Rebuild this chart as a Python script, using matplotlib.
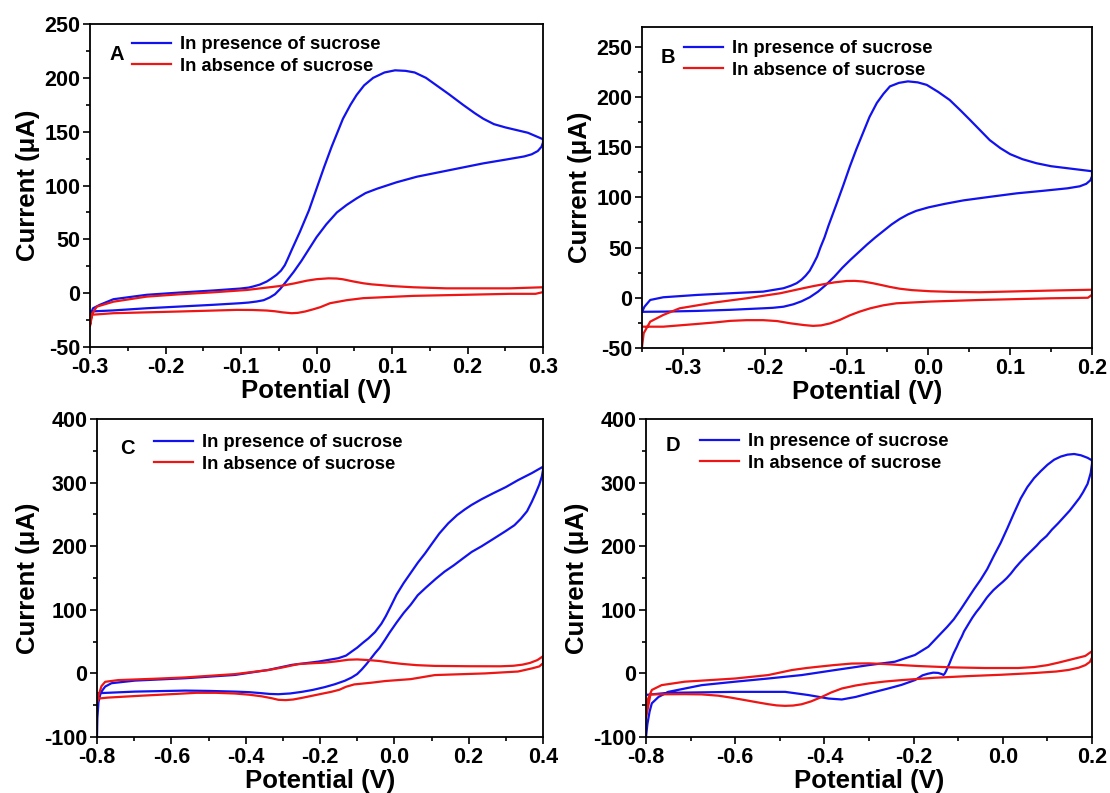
import matplotlib
matplotlib.use("Agg")
import matplotlib.pyplot as plt
from matplotlib.ticker import MultipleLocator, FormatStrFormatter

plt.rcParams["font.family"] = ["Liberation Sans", "DejaVu Sans"]
plt.rcParams["font.weight"] = "bold"
plt.rcParams["axes.unicode_minus"] = False

BLUE = "#1212EE"
RED = "#EE1515"
LABELS = ["In presence of sucrose", "In absence of sucrose"]

# ---- Panel A: forward (anodic) and reverse sweeps, potential in V, current in uA ----
a_with_fwd_v = [-0.300, -0.299, -0.296, -0.287, -0.269, -0.225, -0.181, -0.137, -0.101, -0.090,
                -0.084, -0.075, -0.066, -0.060, -0.053, -0.047, -0.042, -0.038, -0.033, -0.022,
                -0.010, 0.000, 0.010, 0.020, 0.035, 0.045, 0.053, 0.063, 0.075, 0.090,
                0.104, 0.118, 0.130, 0.145, 0.159, 0.175, 0.194, 0.210, 0.221, 0.235,
                0.250, 0.265, 0.280, 0.290, 0.300]
a_with_fwd_i = [-25, -19, -14, -10.8, -5.6, -1.5, 0.6, 2.5, 4.3, 5.2,
                6.2, 8, 10.8, 13.5, 17, 21, 26, 32, 40, 57,
                77, 97, 117, 136, 162, 175, 184, 193, 200, 205,
                207, 206.5, 205, 200, 193, 185, 175, 167, 162, 157,
                154, 151.5, 149, 146, 143]
a_with_rev_v = [0.300, 0.298, 0.293, 0.285, 0.275, 0.250, 0.221, 0.177, 0.133, 0.106,
                0.080, 0.065, 0.053, 0.040, 0.027, 0.013, 0.000, -0.010, -0.020, -0.030,
                -0.040, -0.048, -0.055, -0.062, -0.070, -0.079, -0.090, -0.101, -0.137, -0.181,
                -0.225, -0.269, -0.300]
a_with_rev_i = [140, 136, 132, 129, 127, 124, 120.6, 114.4, 108.2, 103,
                97, 93, 88, 82, 75, 64, 52, 41, 30, 20,
                11, 4, -1, -4, -6.5, -7.7, -8.7, -9.3, -10.8, -12.4,
                -14, -16, -17]
a_without_fwd_v = [-0.300, -0.298, -0.291, -0.269, -0.225, -0.181, -0.137, -0.092, -0.048, -0.030,
                   -0.013, 0.000, 0.016, 0.027, 0.035, 0.048, 0.062, 0.073, 0.084, 0.100,
                   0.128, 0.172, 0.256, 0.300]
a_without_fwd_i = [-30, -20, -12.5, -7.9, -3.2, -1, 0.8, 3, 6.7, 9,
                   11.6, 13, 13.8, 13.6, 12.9, 11, 9.2, 8.2, 7.6, 6.6,
                   5.5, 4.5, 4.5, 5.5]
a_without_rev_v = [0.300, 0.290, 0.256, 0.128, 0.062, 0.040, 0.018, 0.005, -0.004, -0.015,
                   -0.025, -0.033, -0.045, -0.055, -0.066, -0.085, -0.106, -0.140, -0.181, -0.269,
                   -0.297, -0.300]
a_without_rev_i = [1, -0.6, -0.6, -2.5, -4.6, -6.5, -9.3, -13, -14.9, -17,
                   -18.3, -18.6, -17.8, -16.8, -16.1, -15.6, -15.5, -16.2, -17, -18.6,
                   -20, -30]

# ---- Panel B ----
b_with_fwd_v = [-0.350, -0.347, -0.340, -0.324, -0.283, -0.242, -0.202, -0.177, -0.168, -0.161,
                -0.155, -0.150, -0.145, -0.141, -0.136, -0.132, -0.127, -0.122, -0.117, -0.112,
                -0.104, -0.096, -0.088, -0.080, -0.072, -0.063, -0.055, -0.047, -0.036, -0.025,
                -0.013, -0.002, 0.012, 0.026, 0.040, 0.051, 0.063, 0.075, 0.088, 0.100,
                0.115, 0.132, 0.150, 0.170, 0.185, 0.200]
b_with_fwd_i = [-14, -8.9, -2.2, 0.5, 2.8, 4.5, 6.1, 9.5, 12, 14.5,
                18, 22, 27, 33, 41, 50, 60, 72, 83, 94,
                112, 130.7, 148, 164, 180, 194, 203, 210.5, 214, 215.5,
                214.5, 212, 205, 197, 186, 177, 167, 157, 149, 143,
                138, 134, 131, 129, 127.5, 126]
b_with_rev_v = [0.200, 0.198, 0.193, 0.185, 0.170, 0.140, 0.108, 0.075, 0.043, 0.020,
                0.000, -0.015, -0.025, -0.035, -0.045, -0.055, -0.065, -0.075, -0.085, -0.095,
                -0.105, -0.115, -0.125, -0.135, -0.145, -0.155, -0.165, -0.177, -0.190, -0.202,
                -0.242, -0.283, -0.324, -0.350]
b_with_rev_i = [121, 117, 113.5, 111, 109, 106.5, 104, 100.5, 97, 93.5,
                90, 86.5, 83, 78.5, 73, 66.5, 60, 53, 45.5, 38,
                30, 21, 13, 6, 0.5, -3.5, -6.5, -8.9, -10, -10.5,
                -12, -13.1, -13.8, -14]
b_without_fwd_v = [-0.350, -0.348, -0.340, -0.324, -0.304, -0.263, -0.222, -0.181, -0.153, -0.140,
                   -0.128, -0.115, -0.100, -0.090, -0.080, -0.068, -0.057, -0.047, -0.035, -0.020,
                   0.002, 0.030, 0.063, 0.151, 0.200]
b_without_fwd_i = [-48.9, -35.4, -23.8, -17.1, -10.5, -4.9, -0.5, 4.5, 9.5, 11.7,
                   13.5, 15.3, 16.7, 16.8, 16.2, 14.5, 12.6, 10.8, 9, 7.6,
                   6.5, 5.8, 5.5, 7.2, 8]
b_without_rev_v = [0.200, 0.195, 0.151, 0.063, 0.002, -0.039, -0.055, -0.071, -0.084, -0.096,
                   -0.108, -0.120, -0.131, -0.141, -0.152, -0.169, -0.185, -0.202, -0.222, -0.242,
                   -0.260, -0.283, -0.324, -0.350]
b_without_rev_i = [3, 0, -0.5, -2.2, -3.8, -5.5, -7.5, -10.5, -13.8, -17.5,
                   -22, -25.5, -27.5, -28, -27.2, -25.4, -23.2, -22.3, -22.3, -23,
                   -24.5, -26.1, -28.8, -28.8]

# ---- Panel C ----
c_with_fwd_v = [-0.800, -0.799, -0.796, -0.790, -0.778, -0.761, -0.698, -0.563, -0.429, -0.339,
                -0.276, -0.204, -0.151, -0.130, -0.115, -0.100, -0.085, -0.070, -0.052, -0.035,
                -0.023, -0.010, 0.006, 0.025, 0.044, 0.063, 0.083, 0.100, 0.121, 0.145,
                0.169, 0.190, 0.208, 0.235, 0.265, 0.300, 0.333, 0.370, 0.400]
c_with_fwd_i = [-100, -70, -45, -30, -20.7, -15.4, -11.3, -7.6, -2.4, 5.5,
                13.4, 18.6, 23.9, 28, 34.3, 40.5, 48, 55, 65, 78,
                90, 105, 124, 142, 158, 174, 189, 203, 220, 236,
                249, 258, 265, 274, 283, 293, 304, 315, 325]
c_with_rev_v = [0.400, 0.397, 0.390, 0.380, 0.370, 0.357, 0.340, 0.323, 0.300, 0.265,
                0.235, 0.208, 0.185, 0.160, 0.135, 0.112, 0.085, 0.063, 0.044, 0.025,
                0.006, -0.013, -0.025, -0.040, -0.052, -0.065, -0.076, -0.088, -0.100, -0.115,
                -0.133, -0.160, -0.187, -0.220, -0.249, -0.280, -0.312, -0.335, -0.357, -0.390,
                -0.429, -0.500, -0.563, -0.698, -0.796, -0.800]
c_with_rev_i = [320, 310, 297, 283, 270, 255, 243, 233, 224, 211,
                200, 191, 181, 170, 160, 149, 135, 123, 108, 95,
                80, 64, 53, 40, 31.8, 22, 14, 6, -1, -6.5,
                -11.5, -17, -21.5, -26, -29, -31.5, -32.7, -32.3, -31.1, -29.5,
                -28.6, -27.5, -27, -28.6, -31.1, -31]
c_without_fwd_v = [-0.800, -0.795, -0.788, -0.778, -0.743, -0.650, -0.563, -0.429, -0.339, -0.300,
                   -0.258, -0.220, -0.187, -0.155, -0.124, -0.100, -0.070, -0.040, -0.010, 0.020,
                   0.060, 0.109, 0.200, 0.285, 0.320, 0.345, 0.365, 0.385, 0.400]
c_without_fwd_i = [-45, -33, -20, -13.2, -10.5, -8.5, -6.3, -1.1, 5.3, 9.5,
                   14.7, 16, 17, 19, 21.5, 22, 21, 19.5, 17, 15,
                   13, 11.8, 11.3, 11.2, 12, 13.8, 16.5, 21, 27]
c_without_rev_v = [0.400, 0.390, 0.371, 0.333, 0.244, 0.109, 0.044, -0.025, -0.060, -0.108,
                   -0.130, -0.148, -0.170, -0.187, -0.220, -0.249, -0.272, -0.292, -0.312, -0.330,
                   -0.357, -0.390, -0.429, -0.480, -0.533, -0.580, -0.629, -0.680, -0.725, -0.770,
                   -0.796, -0.800]
c_without_rev_i = [16, 11, 8, 3, 0, -2.6, -9, -12, -14.5, -17.3,
                   -21, -25.7, -29, -31, -35, -38.5, -41, -42, -41.5, -39,
                   -36, -33.5, -31.6, -30.5, -30.5, -32, -33.5, -35, -36.5, -38,
                   -39.5, -45]

# ---- Panel D ----
d_with_fwd_v = [-0.800, -0.797, -0.792, -0.787, -0.772, -0.750, -0.675, -0.600, -0.526, -0.451,
                -0.376, -0.301, -0.242, -0.197, -0.167, -0.140, -0.125, -0.110, -0.095, -0.080,
                -0.065, -0.050, -0.035, -0.020, -0.005, 0.010, 0.025, 0.040, 0.055, 0.070,
                0.085, 0.100, 0.115, 0.130, 0.145, 0.160, 0.175, 0.190, 0.200]
d_with_fwd_i = [-100, -80, -60, -47, -37, -29, -18.4, -13, -8, -2.6,
                5.3, 13, 18.4, 29, 42, 62, 73, 85, 100, 116,
                132, 147, 164, 185, 205, 228, 252, 275, 293, 307,
                318, 328, 336, 341, 344, 345, 343, 339, 335]
d_with_rev_v = [0.200, 0.197, 0.190, 0.180, 0.172, 0.160, 0.150, 0.137, 0.124, 0.110,
                0.098, 0.085, 0.076, 0.063, 0.050, 0.038, 0.028, 0.018, 0.009, 0.000,
                -0.010, -0.021, -0.030, -0.036, -0.043, -0.051, -0.060, -0.068, -0.075, -0.081,
                -0.087, -0.092, -0.098, -0.103, -0.110, -0.116, -0.120, -0.124, -0.127, -0.130,
                -0.133, -0.137, -0.145, -0.156, -0.168, -0.180, -0.197, -0.227, -0.257, -0.301,
                -0.330, -0.361, -0.391, -0.436, -0.488, -0.600, -0.750, -0.796]
d_with_rev_i = [330, 315, 298, 285, 276, 265, 256, 246, 236, 226,
                216, 208, 201, 192, 183, 174, 166, 157, 150, 144,
                138, 131, 124, 119, 112, 104, 96, 88, 80, 73,
                66, 58, 50, 42, 32, 22, 15, 9, 4, 0,
                -2.4, -1, 0.8, 1.2, -0.5, -3, -10.5, -18, -23.7, -31.6,
                -37, -41, -39.5, -34, -29, -29, -30.5, -33.5]
d_without_fwd_v = [-0.800, -0.796, -0.787, -0.765, -0.713, -0.600, -0.526, -0.473, -0.440, -0.414,
                   -0.380, -0.339, -0.300, -0.264, -0.225, -0.189, -0.150, -0.115, -0.040, 0.035,
                   0.070, 0.100, 0.125, 0.145, 0.165, 0.185, 0.200]
d_without_fwd_i = [-60, -41, -26, -18.4, -13, -8, -2.6, 5.3, 8.5, 10.5,
                   13, 15.5, 15.8, 14.7, 13, 11.6, 10.5, 9.5, 8.5, 8.5,
                   10, 13, 17, 20.5, 24, 27.5, 35]
d_without_rev_v = [0.200, 0.195, 0.185, 0.170, 0.148, 0.120, 0.068, -0.003, -0.077, -0.152,
                   -0.227, -0.265, -0.301, -0.330, -0.361, -0.385, -0.406, -0.430, -0.451, -0.470,
                   -0.488, -0.507, -0.526, -0.550, -0.578, -0.610, -0.638, -0.675, -0.713, -0.760,
                   -0.790, -0.800]
d_without_rev_i = [25, 18, 13, 9, 5.5, 3, 0.5, -2.1, -4.2, -6.8,
                   -10.5, -12.8, -15.8, -19, -23.7, -30, -37, -44, -48.5, -50.5,
                   -51, -50.3, -48.4, -45.5, -42, -38, -35, -33, -32.6, -32.8,
                   -33, -70]


def loop(fwd_v, fwd_i, rev_v, rev_i):
    """Join forward and reverse sweeps into one closed voltammogram."""
    return list(fwd_v) + list(rev_v), list(fwd_i) + list(rev_i)


PANELS = [
    dict(letter="A", rect=[0.0811, 0.5624, 0.4081, 0.4073],
         data=(loop(a_with_fwd_v, a_with_fwd_i, a_with_rev_v, a_with_rev_i),
               loop(a_without_fwd_v, a_without_fwd_i, a_without_rev_v, a_without_rev_i)),
         xlim=(-0.3, 0.3), ylim=(-50, 250), xstep=(0.1, 0.05), ystep=(50, 25),
         leg=(0.093, 0.963), tag=(0.042, 0.905)),
    dict(letter="B", rect=[0.5784, 0.5612, 0.4054, 0.4052],
         data=(loop(b_with_fwd_v, b_with_fwd_i, b_with_rev_v, b_with_rev_i),
               loop(b_without_fwd_v, b_without_fwd_i, b_without_rev_v, b_without_rev_i)),
         xlim=(-0.35, 0.2), ylim=(-50, 270), xstep=(0.1, 0.05), ystep=(50, 25),
         leg=(0.093, 0.958), tag=(0.042, 0.905)),
    dict(letter="C", rect=[0.0874, 0.0706, 0.4018, 0.4010],
         data=(loop(c_with_fwd_v, c_with_fwd_i, c_with_rev_v, c_with_rev_i),
               loop(c_without_fwd_v, c_without_fwd_i, c_without_rev_v, c_without_rev_i)),
         xlim=(-0.8, 0.4), ylim=(-100, 400), xstep=(0.2, 0.1), ystep=(100, 50),
         leg=(0.128, 0.953), tag=(0.051, 0.906)),
    dict(letter="D", rect=[0.5820, 0.0706, 0.4018, 0.4010],
         data=(loop(d_with_fwd_v, d_with_fwd_i, d_with_rev_v, d_with_rev_i),
               loop(d_without_fwd_v, d_without_fwd_i, d_without_rev_v, d_without_rev_i)),
         xlim=(-0.8, 0.2), ylim=(-100, 400), xstep=(0.2, 0.1), ystep=(100, 50),
         leg=(0.121, 0.956), tag=(0.043, 0.918)),
]


def draw_panel(fig, p):
    ax = fig.add_axes(p["rect"])
    (wv, wi), (ov, oi) = p["data"]
    ax.plot(wv, wi, color=BLUE, lw=1.6, label=LABELS[0], solid_joinstyle="round")
    ax.plot(ov, oi, color=RED, lw=1.6, label=LABELS[1], solid_joinstyle="round")

    ax.set_xlim(p["xlim"]); ax.set_ylim(p["ylim"])
    ax.xaxis.set_major_locator(MultipleLocator(p["xstep"][0]))
    ax.xaxis.set_minor_locator(MultipleLocator(p["xstep"][1]))
    ax.yaxis.set_major_locator(MultipleLocator(p["ystep"][0]))
    ax.yaxis.set_minor_locator(MultipleLocator(p["ystep"][1]))
    ax.xaxis.set_major_formatter(FormatStrFormatter("%.1f"))
    ax.yaxis.set_major_formatter(FormatStrFormatter("%d"))
    ax.tick_params(which="both", direction="out", top=False, right=False, width=1.2)
    ax.tick_params(which="major", length=5, labelsize=15.5, pad=2)
    ax.tick_params(which="minor", length=3)
    for lab in ax.get_xticklabels() + ax.get_yticklabels():
        lab.set_fontweight("bold")
    for s in ax.spines.values():
        s.set_linewidth(1.3)

    ax.set_xlabel("Potential (V)", fontsize=18.5, fontweight="bold", labelpad=1)
    ax.set_ylabel("Current (\u03bcA)", fontsize=18.5, fontweight="bold", labelpad=3)

    ax.legend(loc="upper left", bbox_to_anchor=p["leg"], frameon=False,
              handlelength=2.13, handletextpad=0.5,
              labelspacing=0.25, borderpad=0, borderaxespad=0,
              prop=dict(weight="bold", size=13.2))
    ax.text(p["tag"][0], p["tag"][1], p["letter"], transform=ax.transAxes,
            fontsize=14.5, fontweight="bold", va="center", ha="left")
    return ax


fig = plt.figure(figsize=(11.1, 7.93), dpi=100)
for p in PANELS:
    draw_panel(fig, p)
fig.savefig("out.png", dpi=100, facecolor="white")
